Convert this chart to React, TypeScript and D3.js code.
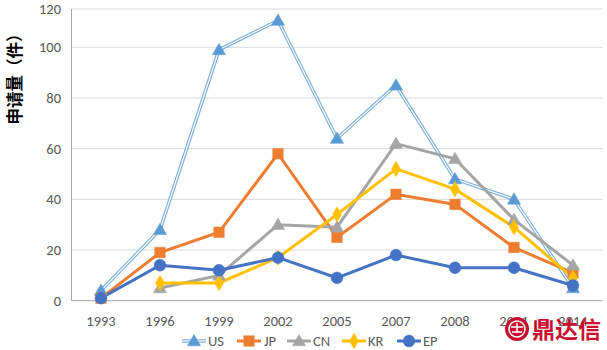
import React from "react";
import * as d3 from "d3";

const categories = ["1993", "1996", "1999", "2002", "2005", "2007", "2008", "2011", "2014"];
const US = [4, 28, 99, 114, 64, 85, 48, 40, 5];
const JP = [1, 19, 27, 58, 25, 42, 38, 21, 11];
const CN = [null, 5, 10, 30, 29, 62, 56, 32, 14];
const KR = [null, 7, 7, 17, 34, 52, 44, 29, 9];
const EP = [1, 14, 12, 17, 9, 18, 13, 13, 6];
const yTicks = [0, 20, 40, 60, 80, 100, 120];

type S = { name: string; values: (number | null)[]; color: string; marker: string };
const series: S[] = [
  { name: "US", values: US, color: "#5B9BD5", marker: "triangle" },
  { name: "JP", values: JP, color: "#ED7D31", marker: "square" },
  { name: "CN", values: CN, color: "#A5A5A5", marker: "triangle" },
  { name: "KR", values: KR, color: "#FFC000", marker: "diamond" },
  { name: "EP", values: EP, color: "#4472C4", marker: "circle" },
];

const font = "Calibri, Carlito, 'Liberation Sans', 'DejaVu Sans', sans-serif";

function Marker({ type, x, y, color }: { type: string; x: number; y: number; color: string }) {
  const sym =
    type === "triangle" ? d3.symbolTriangle : type === "square" ? d3.symbolSquare : type === "diamond" ? d3.symbolDiamond : d3.symbolCircle;
  const size = type === "triangle" ? 75 : type === "square" ? 110 : type === "diamond" ? 70 : 110;
  const p = d3.symbol().type(sym).size(size)()!;
  return <path d={p} transform={`translate(${x},${y + (type === "triangle" ? 1 : 0)})`} fill={color} stroke={color} strokeWidth={0.5} />;
}

export default function App() {
  const x = d3.scalePoint<string>().domain(categories).range([71.5, 602.5]).padding(0.5);
  const y = d3.scaleLinear().domain([0, 100, 120]).range([300.7, 47.3, 9]);

  const line = d3
    .line<number | null>()
    .defined((d) => d !== null)
    .x((_, i) => x(categories[i])!)
    .y((d) => y(d as number));

  const legend = [
    { lx: 182, tx: 208 },
    { lx: 237, tx: 264 },
    { lx: 287, tx: 313 },
    { lx: 342, tx: 368 },
    { lx: 397, tx: 423 },
  ];

  return (
    <svg width={607} height={350} style={{ position: "absolute", left: 0, top: 0, background: "#fff" }}>
      <rect x={0} y={0} width={607} height={350} fill="#fff" />
      {yTicks.map((t) => (
        <g key={t}>
          {t > 0 && <line x1={71.5} x2={602.5} y1={y(t)} y2={y(t)} stroke="#D9D9D9" strokeWidth={1} />}
          <text x={61} y={y(t)} dy="0.35em" textAnchor="end" fontSize={14.5} fill="#595959" fontFamily={font}>
            {t}
          </text>
        </g>
      ))}
      <line x1={71.5} x2={71.5} y1={9} y2={300.7} stroke="#A6A6A6" strokeWidth={1} />
      <line x1={71.5} x2={602.5} y1={300.7} y2={300.7} stroke="#A6A6A6" strokeWidth={1} />
      {categories.map((c) => (
        <text key={c} x={x(c)} y={326} textAnchor="middle" fontSize={14.5} fill="#595959" fontFamily={font}>
          {c}
        </text>
      ))}
      <text
        transform="translate(21,75) rotate(-90)"
        textAnchor="middle"
        fontSize={16.5}
        fontWeight="bold"
        fill="#000"
        fontFamily="'Noto Sans CJK SC', sans-serif"
      >
        申请量（件）
      </text>
      {series.map((s) =>
        s.name === "US" ? (
          <g key={s.name}>
            <path d={line(s.values)!} fill="none" stroke="#7EB0DD" strokeWidth={3.5} />
            <path d={line(s.values)!} fill="none" stroke="#fff" strokeWidth={1.2} />
          </g>
        ) : (
          <path key={s.name} d={line(s.values)!} fill="none" stroke={s.color} strokeWidth={3} />
        )
      )}
      {series.map((s) =>
        s.values.map((v, i) =>
          v === null ? null : <Marker key={s.name + i} type={s.marker} x={x(categories[i])!} y={y(v)} color={s.color} />
        )
      )}
      {series.map((s, i) => {
        const L = legend[i];
        return (
          <g key={s.name}>
            {s.name === "US" ? (
              <>
                <line x1={L.lx} x2={L.lx + 24} y1={341} y2={341} stroke="#7EB0DD" strokeWidth={3.5} />
                <line x1={L.lx} x2={L.lx + 24} y1={341} y2={341} stroke="#fff" strokeWidth={1.2} />
              </>
            ) : (
              <line x1={L.lx} x2={L.lx + 24} y1={341} y2={341} stroke={s.color} strokeWidth={3} />
            )}
            <Marker type={s.marker} x={L.lx + 12} y={341} color={s.color} />
            <text x={L.tx} y={341} dy="0.35em" fontSize={14.5} fill="#595959" fontFamily={font}>
              {s.name}
            </text>
          </g>
        );
      })}
      <g>
        <circle cx={517} cy={329} r={12} fill="#C8102E" />
        <circle cx={517} cy={329} r={8} fill="none" stroke="#fff" strokeWidth={1.5} />
        <path d="M511,327 h12 M517,323 v10 M512,332 h10" stroke="#fff" strokeWidth={1.5} />
        <text x={532} y={338} fontSize={23} fontWeight="bold" fill="#C8102E" fontFamily="'Noto Sans CJK SC', sans-serif">
          鼎达信
        </text>
      </g>
    </svg>
  );
}
